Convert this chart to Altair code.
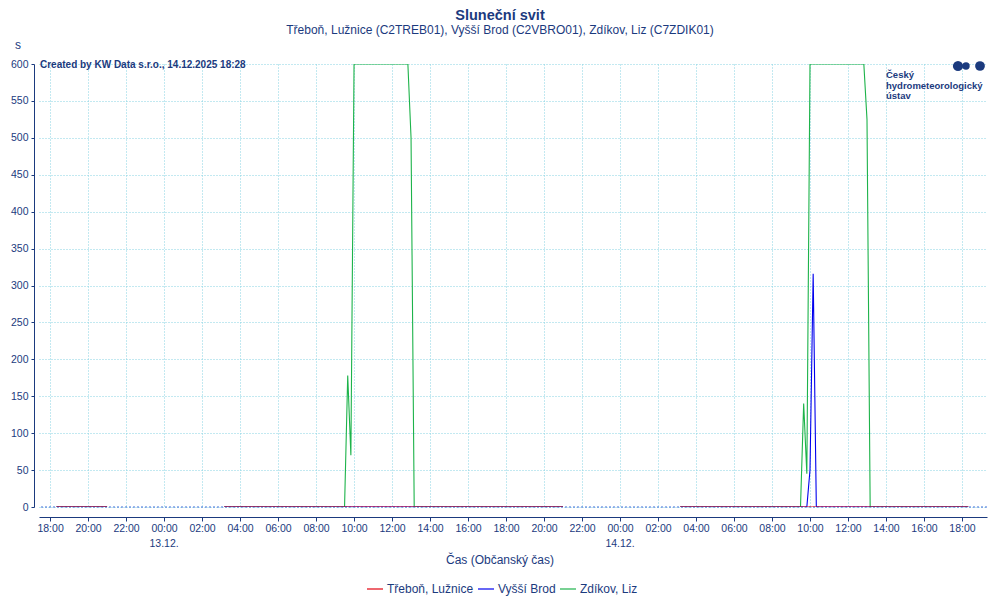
import altair as alt
import pandas as pd

# ---------------- data ----------------
series_names = ["Třeboň, Lužnice", "Vyšší Brod", "Zdíkov, Liz"]
series_colors = ["#e3000f", "#0000ee", "#1db34a"]

# Zdíkov, Liz (10-minute sunshine, seconds)
zdik_time = ["2025-12-12T18:20:00", "2025-12-12T21:00:00",
             "2025-12-13T03:10:00", "2025-12-13T09:30:00", "2025-12-13T09:40:00",
             "2025-12-13T09:50:00", "2025-12-13T10:00:00", "2025-12-13T12:50:00",
             "2025-12-13T13:00:00", "2025-12-13T13:10:00", "2025-12-13T21:00:00",
             "2025-12-14T03:10:00", "2025-12-14T09:30:00", "2025-12-14T09:40:00",
             "2025-12-14T09:50:00", "2025-12-14T10:00:00", "2025-12-14T12:50:00",
             "2025-12-14T13:00:00", "2025-12-14T13:10:00", "2025-12-14T18:20:00"]
zdik_value = [0, 0, 0, 0, 178, 70, 600, 600, 500, 0, 0, 0, 0, 140, 45, 600, 600, 525, 0, 0]
zdik_part = [1, 1, 2, 2, 2, 2, 2, 2, 2, 2, 2, 3, 3, 3, 3, 3, 3, 3, 3, 3]

# Vyšší Brod
vbro_time = ["2025-12-12T18:20:00", "2025-12-12T21:00:00",
             "2025-12-13T03:10:00", "2025-12-13T21:00:00",
             "2025-12-14T03:10:00", "2025-12-14T09:50:00", "2025-12-14T10:00:00",
             "2025-12-14T10:10:00", "2025-12-14T10:20:00", "2025-12-14T18:20:00"]
vbro_value = [0, 0, 0, 0, 0, 0, 50, 316, 0, 0]
vbro_part = [1, 1, 2, 2, 3, 3, 3, 3, 3, 3]

# Třeboň, Lužnice
treb_time = ["2025-12-12T18:20:00", "2025-12-12T21:00:00",
             "2025-12-13T03:10:00", "2025-12-13T21:00:00",
             "2025-12-14T03:10:00", "2025-12-14T18:20:00"]
treb_value = [0, 0, 0, 0, 0, 0]
treb_part = [1, 1, 2, 2, 3, 3]

y_ticks = [0, 50, 100, 150, 200, 250, 300, 350, 400, 450, 500, 550, 600]
# x tick marks (day of month, hour)
x_tick_days = [12, 12, 12, 13, 13, 13, 13, 13, 13, 13, 13, 13, 13, 13, 13, 14, 14, 14, 14, 14, 14, 14, 14, 14, 14]
x_tick_hours = [18, 20, 22, 0, 2, 4, 6, 8, 10, 12, 14, 16, 18, 20, 22, 0, 2, 4, 6, 8, 10, 12, 14, 16, 18]
date_label_time = ["2025-12-13T00:00:00", "2025-12-14T00:00:00"]
date_label_text = ["13.12.", "14.12."]

title_text = "Sluneční svit"
subtitle_text = "Třeboň, Lužnice (C2TREB01), Vyšší Brod (C2VBRO01), Zdíkov, Liz (C7ZDIK01)"
credit_text = "Created by KW Data s.r.o., 14.12.2025 18:28"
x_title = "Čas (Občanský čas)"
y_unit = "s"
logo_lines = ["Český", "hydrometeorologický", "ústav"]

# ---------------- build table ----------------
rows = []
for name, times, vals, parts in [
    (series_names[2], zdik_time, zdik_value, zdik_part),
    (series_names[1], vbro_time, vbro_value, vbro_part),
    (series_names[0], treb_time, treb_value, treb_part),
]:
    for t, v, p in zip(times, vals, parts):
        rows.append({"time": t, "value": v, "series": name, "key": f"{name}-{p}"})
df = pd.DataFrame(rows)

NAVY = "#1b3a7e"
FONT = "Liberation Sans"

x_scale = alt.Scale(domain=["2025-12-12T17:25:00", "2025-12-14T19:19:00"], nice=False)
x_values = [alt.DateTime(year=2025, month=12, date=d, hours=h)
            for d, h in zip(x_tick_days, x_tick_hours)]

lines = alt.Chart(df).mark_line(strokeWidth=1.1, clip=True).encode(
    x=alt.X("time:T", scale=x_scale,
            axis=alt.Axis(title=None, format="%H:%M", values=x_values, tickCount=100,
                          labelFontSize=10.5, labelFont=FONT,
                          labelColor=NAVY, labelOverlap=False,
                          labelFlush=False, offset=10, domainColor=NAVY, tickColor=NAVY,
                          tickSize=4, labelPadding=2,
                          gridColor="#86d3e3", gridDash=[1, 2], gridWidth=1)),
    y=alt.Y("value:Q", scale=alt.Scale(domain=[0, 600], nice=False),
            axis=alt.Axis(title=None, values=y_ticks, tickCount=100,
                          labelFontSize=10.5, labelFont=FONT,
                          labelColor=NAVY, offset=5, domainColor=NAVY, tickColor=NAVY,
                          tickSize=3, labelPadding=3, labelOverlap=False,
                          gridColor="#86d3e3", gridDash=[1, 2], gridWidth=1)),
    color=alt.Color("series:N",
                    scale=alt.Scale(domain=series_names, range=series_colors),
                    legend=alt.Legend(title=None, orient="none", legendX=327, legendY=516,
                                      direction="horizontal", labelFont=FONT, labelFontSize=12,
                                      labelColor=NAVY, symbolType="stroke", symbolSize=256,
                                      symbolStrokeWidth=1.2, columnPadding=1, labelOffset=3)),
    detail="key:N",
)

zero_line = alt.Chart(pd.DataFrame({"v": [0]})).mark_rule(
    color="#3f6fd8", strokeDash=[2, 2], strokeWidth=1
).encode(y="v:Q")

date_labels = alt.Chart(pd.DataFrame({"time": date_label_time, "t": date_label_text})).mark_text(
    font=FONT, fontSize=10.5, color=NAVY, baseline="middle", align="center"
).encode(x="time:T", y=alt.value(480), text="t:N")


def text_layer(txt, x, y, size, bold=False, align="left", color=NAVY):
    return alt.Chart(pd.DataFrame({"t": [txt]})).mark_text(
        font=FONT, fontSize=size, fontWeight="bold" if bold else "normal",
        align=align, baseline="middle", color=color
    ).encode(text="t:N", x=alt.value(x), y=alt.value(y))


layers = [
    zero_line,
    lines,
    date_labels,
    text_layer(title_text, 461, -48, 14.5, bold=True, align="center"),
    text_layer(subtitle_text, 461, -34, 12, align="center"),
    text_layer(y_unit, -21, -19, 12, align="center"),
    text_layer(credit_text, 1, 1, 10, bold=True),
    text_layer(x_title, 461, 496, 12, align="center"),
]
for i, ln in enumerate(logo_lines):
    layers.append(text_layer(ln, 847, 11 + i * 10.5, 9.5, bold=True))

logo_df = pd.DataFrame({"k": ["a", "b", "c"], "px": [919, 927, 941], "s": [105, 55, 95]})
layers.append(alt.Chart(logo_df).mark_circle(color=NAVY, opacity=1)
              .encode(x=alt.X("px:Q", scale=None), y=alt.value(2),
                      size=alt.Size("s:Q", scale=None, legend=None)))

chart = alt.layer(*layers).properties(
    width=948, height=443,
    autosize=alt.AutoSizeParams(type="none"),
    padding={"left": 31, "top": 56, "right": 5, "bottom": 92},
).configure(background="white").configure_view(strokeWidth=0)

chart.save("out.html", embed_options={"renderer": "svg", "actions": False})
